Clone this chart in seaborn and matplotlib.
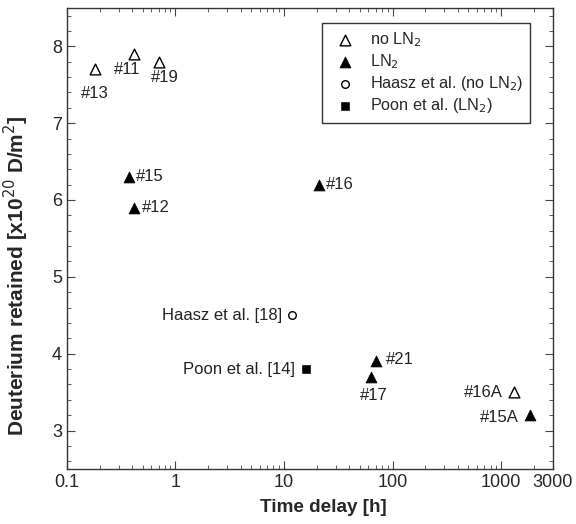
import matplotlib
matplotlib.use("Agg")
import matplotlib.pyplot as plt
import seaborn as sns
import pandas as pd
from matplotlib.ticker import FixedLocator, MultipleLocator, NullFormatter, LogLocator

sns.set_style("ticks")
plt.rcParams['font.family'] = ['Liberation Sans', 'DejaVu Sans']

# data
noln2_x = [0.18, 0.42, 0.71, 1315]
noln2_y = [7.7, 7.9, 7.8, 3.5]
noln2_lab = ["#13", "#11", "#19", "#16A"]
ln2_x = [0.37, 0.42, 21, 70, 63, 1850]
ln2_y = [6.3, 5.9, 6.2, 3.9, 3.7, 3.2]
ln2_lab = ["#15", "#12", "#16", "#21", "#17", "#15A"]
haasz_x = [11.8]
haasz_y = [4.5]
poon_x = [16]
poon_y = [3.8]
xticks = [0.1, 1, 10, 100, 1000, 3000]
xticklabels = ["0.1", "1", "10", "100", "1000", "3000"]

fig = plt.figure(figsize=(5.76, 5.24), dpi=100)
ax = fig.add_axes([0.116, 0.105, 0.844, 0.880])

df1 = pd.DataFrame({"x": noln2_x, "y": noln2_y})
df2 = pd.DataFrame({"x": ln2_x, "y": ln2_y})
df3 = pd.DataFrame({"x": haasz_x, "y": haasz_y})
df4 = pd.DataFrame({"x": poon_x, "y": poon_y})

sns.scatterplot(data=df1, x="x", y="y", marker="^", s=60, facecolors="white",
                edgecolor="black", linewidth=1.0, ax=ax, label="no LN$_2$")
sns.scatterplot(data=df2, x="x", y="y", marker="^", s=60, color="black",
                edgecolor="black", ax=ax, label="LN$_2$")
sns.scatterplot(data=df3, x="x", y="y", marker="o", s=30, facecolors="white",
                edgecolor="black", linewidth=1.0, ax=ax, label="Haasz et al. (no LN$_2$)")
sns.scatterplot(data=df4, x="x", y="y", marker="s", s=30, color="black",
                edgecolor="black", ax=ax, label="Poon et al. (LN$_2$)")

ax.set_xscale("log")
ax.set_xlim(0.1, 3000)
ax.set_ylim(2.5, 8.5)
ax.xaxis.set_major_locator(FixedLocator(xticks))
ax.set_xticklabels(xticklabels)
ax.xaxis.set_minor_locator(LogLocator(base=10, subs=range(2, 10)))
ax.xaxis.set_minor_formatter(NullFormatter())
ax.yaxis.set_major_locator(MultipleLocator(1))
ax.yaxis.set_minor_locator(MultipleLocator(0.2))
ax.tick_params(which="both", direction="in", top=True, right=True, labelsize=13, color="#444444")
ax.tick_params(which="major", length=6)
ax.tick_params(which="minor", length=3)
for sp in ax.spines.values():
    sp.set_linewidth(1.0)
    sp.set_color("#333333")

ax.set_xlabel("Time delay [h]", fontsize=13.6, fontweight="bold")
ax.set_ylabel("Deuterium retained [x10$^{20}$ D/m$^2$]", fontsize=15, fontweight="bold")
ax.xaxis.set_label_coords(0.527, -0.065)
ax.yaxis.set_label_coords(-0.074, 0.42)

fs = 12
off = {
    "#13": (-10, -12, "left", "top"),
    "#11": (-5, -6, "center", "top"),
    "#19": (4, -6, "center", "top"),
    "#16A": (-8, 0, "right", "center"),
    "#15": (5, 0, "left", "center"),
    "#12": (5, 0, "left", "center"),
    "#16": (5, 0, "left", "center"),
    "#21": (7, 1, "left", "center"),
    "#17": (2, -8, "center", "top"),
    "#15A": (-8, -2, "right", "center"),
}
for xs, ys, labs in [(noln2_x, noln2_y, noln2_lab), (ln2_x, ln2_y, ln2_lab)]:
    for x, y, t in zip(xs, ys, labs):
        dx, dy, ha, va = off[t]
        ax.annotate(t, (x, y), xytext=(dx, dy), textcoords="offset points",
                    ha=ha, va=va, fontsize=fs, color="#222222")
ax.annotate("Haasz et al. [18]", (haasz_x[0], haasz_y[0]), xytext=(-7, 0),
            textcoords="offset points", ha="right", va="center", fontsize=fs, color="#222222")
ax.annotate("Poon et al. [14]", (poon_x[0], poon_y[0]), xytext=(-8, 0),
            textcoords="offset points", ha="right", va="center", fontsize=fs, color="#222222")

leg = ax.legend(loc="upper right", bbox_to_anchor=(0.97, 0.985), fontsize=11.7,
                frameon=True, fancybox=False, edgecolor="black", handletextpad=0.5,
                borderpad=0.45, labelspacing=0.2)
leg.get_frame().set_linewidth(1.0)

fig.savefig("out.png", dpi=100)
